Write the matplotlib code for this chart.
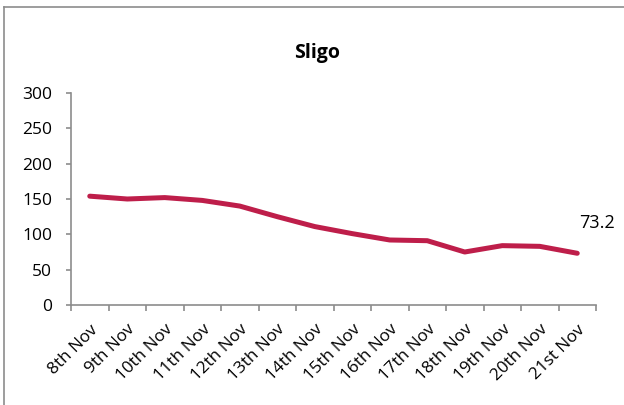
import matplotlib
matplotlib.use("Agg")
import matplotlib.pyplot as plt
from matplotlib.lines import Line2D
from matplotlib.transforms import ScaledTranslation

categories = ["8th Nov", "9th Nov", "10th Nov", "11th Nov", "12th Nov", "13th Nov", "14th Nov",
              "15th Nov", "16th Nov", "17th Nov", "18th Nov", "19th Nov", "20th Nov", "21st Nov"]
values = [154, 150, 152, 148, 140, 125, 111, 101, 92, 91, 75, 84, 83, 73.2]
yticks = [0, 50, 100, 150, 200, 250, 300]

plt.rcParams['font.family'] = ['Open Sans', 'DejaVu Sans']
W, H = 624, 405
fig = plt.figure(figsize=(W / 100, H / 100), dpi=100)
# chart border (only top and left edges are visible in the frame)
fig.add_artist(Line2D([4 / W, 4 / W], [0, 1 - 7 / H], transform=fig.transFigure, color='#8c8c8c', lw=1.2))
fig.add_artist(Line2D([4 / W, 1], [1 - 7 / H, 1 - 7 / H], transform=fig.transFigure, color='#8c8c8c', lw=1.2))

ax = fig.add_axes([71 / W, 1 - 305 / H, 525 / W, 212 / H])
x = list(range(len(categories)))
ax.plot(x, values, color='#BE1E4A', linewidth=3.6, solid_capstyle='round', solid_joinstyle='round')
ax.set_xlim(-0.5, len(categories) - 0.5)
ax.set_ylim(0, 300)
ax.set_yticks(yticks)
ax.set_yticklabels([str(v) for v in yticks], fontsize=12.5)
ax.set_xticks(x)
ax.set_xticklabels(categories, rotation=45, ha='right', va='top', rotation_mode='anchor', fontsize=12.3)
offset = ScaledTranslation(3 / 100, 0, fig.dpi_scale_trans)
for lbl in ax.get_xticklabels():
    lbl.set_transform(lbl.get_transform() + offset)
ax.set_xticks([i - 0.5 for i in range(len(categories) + 1)], minor=True)
ax.tick_params(axis='x', which='major', length=0, pad=12)
ax.tick_params(axis='x', which='minor', length=4, color='#8c8c8c', width=1.2)
ax.tick_params(axis='y', length=3.5, color='#8c8c8c', width=1.2, pad=10)
for s in ['top', 'right']:
    ax.spines[s].set_visible(False)
for s in ['left', 'bottom']:
    ax.spines[s].set_color('#8c8c8c')
    ax.spines[s].set_linewidth(1.2)
ax.annotate(f"{values[-1]}", xy=(x[-1], values[-1]), xytext=(14.5, 22), textcoords='offset points',
            ha='center', va='center', fontsize=13)
fig.text(317 / W, 1 - 58 / H, "Sligo", ha='center', va='baseline', fontsize=14, fontweight='bold')
fig.savefig("out.png", dpi=100)
